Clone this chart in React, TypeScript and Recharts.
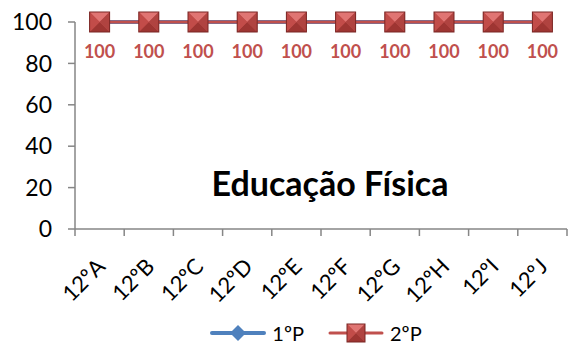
import { CartesianGrid, LabelList, Legend, Line, LineChart, XAxis, YAxis } from "recharts";

const classes = ["12ºA", "12ºB", "12ºC", "12ºD", "12ºE", "12ºF", "12ºG", "12ºH", "12ºI", "12ºJ"];
const firstPeriod = [100, 100, 100, 100, 100, 100, 100, 100, 100, 100];
const secondPeriod = [100, 100, 100, 100, 100, 100, 100, 100, 100, 100];
const yTicks = [0, 20, 40, 60, 80, 100];

const BLUE = "#4F81BD";
const RED = "#C0504D";
const AXIS = "#868686";
const FONT = "Lato, 'Open Sans', sans-serif";

const W = 578;
const H = 354;
const PLOT_LEFT = 75;
const PLOT_RIGHT = 567;
const BAND = (PLOT_RIGHT - PLOT_LEFT) / classes.length;

const data = classes.map((name, i) => ({
  name,
  p1: firstPeriod[i],
  p2: secondPeriod[i],
}));

function Square({ cx, cy, s = 10 }: { cx: number; cy: number; s?: number }) {
  return (
    <g>
      <rect x={cx - s} y={cy - s} width={s * 2} height={s * 2} fill={RED} />
      <polygon points={`${cx - s},${cy - s} ${cx + s},${cy - s} ${cx},${cy}`} fill="#E07573" />
      <polygon points={`${cx - s},${cy + s} ${cx + s},${cy + s} ${cx},${cy}`} fill="#9E3532" />
      <polygon points={`${cx - s},${cy - s} ${cx - s},${cy + s} ${cx},${cy}`} fill="#C24C49" />
      <polygon points={`${cx + s},${cy - s} ${cx + s},${cy + s} ${cx},${cy}`} fill="#B04340" />
      <rect x={cx - s} y={cy - s} width={s * 2} height={s * 2} fill="none" stroke="#7A2624" strokeWidth={1} />
    </g>
  );
}

function Diamond({ cx, cy, r = 9 }: { cx: number; cy: number; r?: number }) {
  return <polygon points={`${cx},${cy - r} ${cx + r},${cy} ${cx},${cy + r} ${cx - r},${cy}`} fill={BLUE} />;
}

function CategoryTick(props: any) {
  const { x, y, payload, index } = props;
  return (
    <g>
      <line x1={x - BAND / 2} x2={x - BAND / 2} y1={y - 8} y2={y - 1} stroke={AXIS} strokeWidth={1.5} />
      {index === classes.length - 1 && (
        <line x1={x + BAND / 2} x2={x + BAND / 2} y1={y - 8} y2={y - 1} stroke={AXIS} strokeWidth={1.5} />
      )}
      <text
        x={0}
        y={0}
        transform={`translate(${x + 3}, ${y + 27}) rotate(-45)`}
        textAnchor="end"
        dominantBaseline="middle"
        fontFamily={FONT}
        fontSize={22}
        fill="#000"
      >
        {payload.value}
      </text>
    </g>
  );
}

function ValueLabel(props: any) {
  const { x, y, value } = props;
  return (
    <text x={x} y={y + 31} textAnchor="middle" dominantBaseline="middle" fontFamily={FONT} fontWeight={700} fontSize={18} fill={RED}>
      {value}
    </text>
  );
}

function LegendContent() {
  return (
    <div
      style={{
        display: "flex",
        justifyContent: "center",
        alignItems: "center",
        fontFamily: FONT,
        fontSize: 20,
        gap: 5,
        paddingTop: 7,
        marginLeft: 52,
      }}
    >
      <svg width={58} height={24}>
        <line x1={3} x2={55} y1={12} y2={12} stroke={BLUE} strokeWidth={4} strokeLinecap="round" />
        <Diamond cx={29} cy={12} r={8} />
      </svg>
      <span style={{ marginRight: 18 }}>1ºP</span>
      <svg width={58} height={24}>
        <line x1={3} x2={55} y1={12} y2={12} stroke={RED} strokeWidth={3} strokeLinecap="round" />
        <Square cx={29} cy={12} s={9} />
      </svg>
      <span>2ºP</span>
    </div>
  );
}

export default function App() {
  return (
    <div style={{ position: "absolute", left: 0, top: 0, width: W, height: H, background: "#fff" }}>
      <LineChart width={W} height={H} data={data} margin={{ top: 22, right: W - PLOT_RIGHT, bottom: 0, left: 12 }}>
        <CartesianGrid horizontal={false} vertical={false} />
        <XAxis
          dataKey="name"
          axisLine={{ stroke: AXIS, strokeWidth: 1.5 }}
          tickLine={false}
          interval={0}
          height={85}
          padding={{ left: BAND / 2, right: BAND / 2 }}
          tick={<CategoryTick />}
        />
        <YAxis
          domain={[0, 100]}
          ticks={yTicks}
          width={PLOT_LEFT - 12}
          axisLine={{ stroke: AXIS, strokeWidth: 1.5 }}
          tickLine={{ stroke: AXIS, strokeWidth: 1.5 }}
          tickSize={7}
          tickMargin={16}
          tick={{ fill: "#000", fontFamily: FONT, fontSize: 23 }}
        />
        <Legend verticalAlign="bottom" height={40} content={<LegendContent />} />
        <Line
          dataKey="p1"
          stroke={BLUE}
          strokeWidth={4}
          dot={(p: any) => <Diamond key={`d${p.index}`} cx={p.cx} cy={p.cy} />}
          isAnimationActive={false}
        />
        <Line
          dataKey="p2"
          stroke={RED}
          strokeWidth={3}
          dot={(p: any) => <Square key={`s${p.index}`} cx={p.cx} cy={p.cy} />}
          isAnimationActive={false}
        >
          <LabelList dataKey="p2" content={<ValueLabel />} />
        </Line>
      </LineChart>
      <div
        style={{
          position: "absolute",
          left: 150,
          width: 360,
          top: 162,
          textAlign: "center",
          fontFamily: FONT,
          fontWeight: 700,
          fontSize: 34,
          color: "#000",
        }}
      >
        Educação Física
      </div>
    </div>
  );
}
